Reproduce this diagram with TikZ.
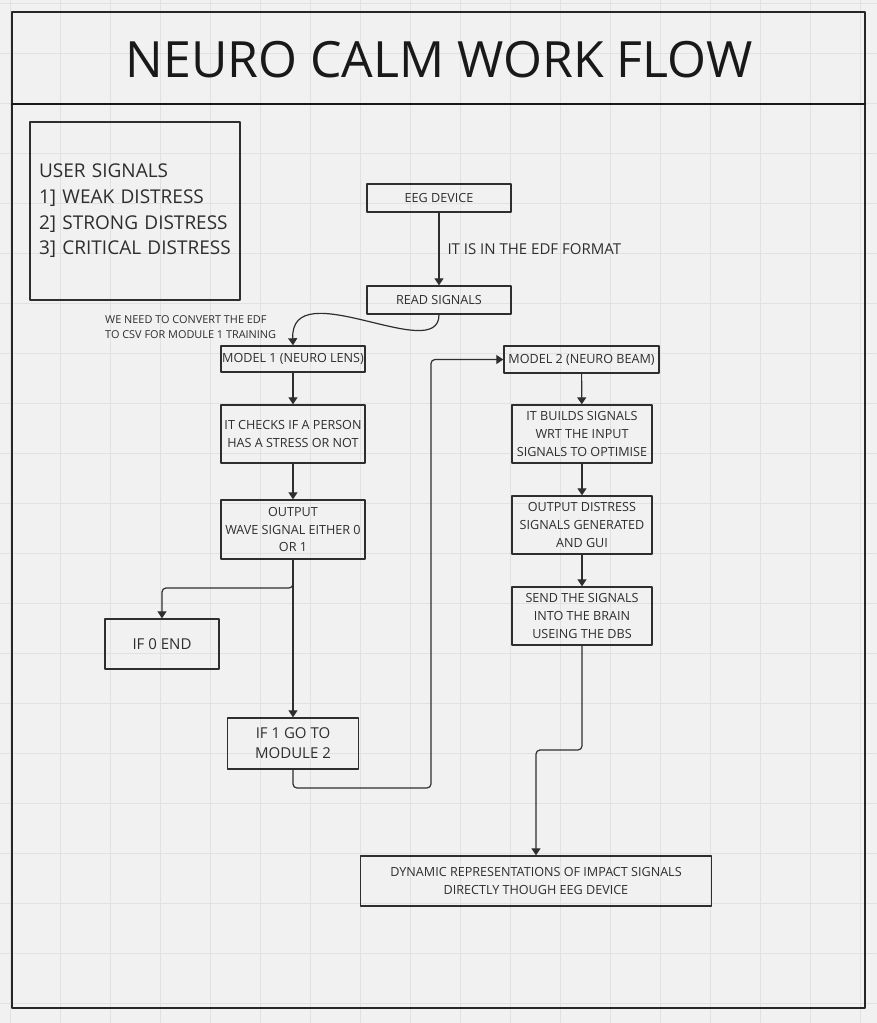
\documentclass[tikz,border=0pt]{standalone}
\usepackage{fontspec}
\setmainfont{Open Sans}
\usepackage{tikz}
\usetikzlibrary{arrows.meta}
\definecolor{bgcol}{HTML}{F1F1F1}
\definecolor{gridcol}{HTML}{E1E1E1}
\definecolor{inkcol}{HTML}{2E2E2E}

\begin{document}
\begin{tikzpicture}[x=1pt,y=-1pt,line cap=round,line join=round,
  box/.style={draw=inkcol,line width=1.4pt,inner sep=0pt,align=center,text=inkcol,
    font=\fontsize{12.6}{17.6}\selectfont},
  bigbox/.style={box,font=\fontsize{15}{20}\selectfont},
  flow/.style={draw=inkcol,line width=1.2pt,rounded corners=4pt,-{Triangle[length=7pt,width=9pt]}}]
\useasboundingbox (0,0) rectangle (877,1023);
\fill[bgcol] (0,0) rectangle (877,1023);
\foreach \gx in {10,60,...,860} \draw[gridcol,line width=0.8pt] (\gx,0) -- (\gx,1023);
\foreach \gy in {3,53,...,1003} \draw[gridcol,line width=0.8pt] (0,\gy) -- (877,\gy);
\draw[black!85,line width=1.5pt] (12,12) rectangle (865,1008);
\draw[black!90,line width=2.6pt] (12,104) -- (865,104);
\node[text=black!90,font=\fontsize{50}{56}\selectfont] (title) at (439,60) {NEURO CALM WORK FLOW};

\node[box,minimum width=210,minimum height=178,text width=192,inner xsep=9pt,align=left,
  font={\fontsize{19}{25.6}\selectfont\hyphenpenalty=10000}] (legend) at (135,211)
  {USER SIGNALS\\1] WEAK DISTRESS\\2] STRONG DISTRESS\\3] CRITICAL DISTRESS};

\node[box,minimum width=144,minimum height=28] (eeg) at (439,198) {EEG DEVICE};
\node[box,minimum width=144,minimum height=28] (read) at (439,300) {READ SIGNALS};
\node[box,minimum width=144,minimum height=26] (mod1) at (293,359) {MODEL 1 (NEURO LENS)};
\node[box,minimum width=144,minimum height=58] (check) at (293,434) {IT CHECKS IF A PERSON\\HAS A STRESS OR NOT};
\node[box,minimum width=144,minimum height=59] (out1) at (293,529.5) {OUTPUT\\WAVE SIGNAL EITHER 0\\OR 1};
\node[bigbox,minimum width=114,minimum height=50] (end0) at (162,644) {IF 0 END};
\node[bigbox,minimum width=131,minimum height=51] (go2) at (293,743.5) {IF 1 GO TO\\MODULE 2};
\node[box,minimum width=155,minimum height=27] (mod2) at (581.5,359.5) {MODEL 2 (NEURO BEAM)};
\node[box,minimum width=140,minimum height=58] (build) at (582,434) {IT BUILDS SIGNALS\\WRT THE INPUT\\SIGNALS TO OPTIMISE};
\node[box,minimum width=140,minimum height=58] (out2) at (582,525) {OUTPUT DISTRESS\\SIGNALS GENERATED\\AND GUI};
\node[box,minimum width=140,minimum height=58] (send) at (582,616) {SEND THE SIGNALS\\INTO THE BRAIN\\USEING THE DBS};
\node[box,minimum width=351,minimum height=50] (dyn) at (536,881) {DYNAMIC REPRESENTATIONS OF IMPACT SIGNALS\\DIRECTLY THOUGH EEG DEVICE};

\node[anchor=west,text=inkcol,font=\fontsize{15}{20}\selectfont] (edflabel) at (444,249) {IT IS IN THE EDF FORMAT};
\node[anchor=west,align=left,inner sep=0pt,text=inkcol,font=\fontsize{10.9}{15}\selectfont] (csvnote) at (105,327.5)
  {WE NEED TO CONVERT THE EDF\\TO CSV FOR MODULE 1 TRAINING};

\coordinate (split) at (293,588);
\coordinate (back) at (431,788);
\coordinate (jog) at (536,750);

\draw[flow] (eeg) -- (read);
\draw[flow] (read.south) .. controls +(0,51) and +(-3,-74) .. (mod1.north);
\draw[flow] (mod1) -- (check);
\draw[flow] (check) -- (out1);
\draw[flow] (out1.south) -- (split) -| (end0.north);
\draw[flow] (out1.south) -- (go2.north);
\draw[flow] (go2.south) |- (back) |- (mod2.west);
\draw[flow] (mod2) -- (build);
\draw[flow] (build) -- (out2);
\draw[flow] (out2) -- (send);
\draw[flow] (send.south) |- (jog) -- (dyn.north);
\end{tikzpicture}
\end{document}
